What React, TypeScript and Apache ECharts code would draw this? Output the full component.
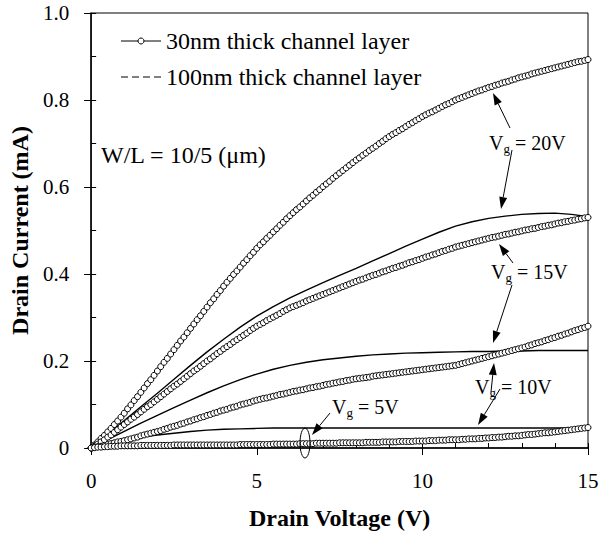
import React, { useEffect, useRef } from "react";
import * as echarts from "echarts";

const FONT = "Liberation Serif, serif";

// Drain voltage sweep for the 30nm curves (0 to 15 V, step 0.1 V)
const vSweep: number[] = Array.from({ length: 151 }, (_, i) => i / 10);

// 30nm thick channel layer (circles), drain current in mA
const c20 = [0,0.007,0.014,0.022,0.029,0.037,0.045,0.054,0.062,0.071,
0.080,0.090,0.099,0.109,0.118,0.128,0.138,0.148,0.157,0.167,
0.177,0.187,0.197,0.206,0.216,0.226,0.236,0.246,0.255,0.265,
0.275,0.285,0.295,0.304,0.314,0.324,0.334,0.343,0.353,0.362,
0.372,0.381,0.390,0.399,0.407,0.416,0.425,0.433,0.442,0.450,
0.459,0.467,0.474,0.482,0.489,0.497,0.504,0.512,0.519,0.527,
0.534,0.541,0.548,0.554,0.561,0.568,0.575,0.581,0.588,0.594,
0.601,0.607,0.613,0.620,0.626,0.632,0.638,0.644,0.650,0.656,
0.662,0.667,0.673,0.678,0.684,0.689,0.694,0.700,0.705,0.711,
0.716,0.721,0.725,0.730,0.734,0.739,0.744,0.748,0.753,0.757,
0.762,0.766,0.770,0.773,0.777,0.781,0.785,0.789,0.792,0.796,
0.800,0.803,0.806,0.809,0.812,0.815,0.818,0.821,0.823,0.826,
0.829,0.831,0.834,0.836,0.839,0.841,0.843,0.846,0.848,0.851,
0.853,0.855,0.857,0.860,0.862,0.864,0.866,0.868,0.870,0.872,
0.874,0.876,0.878,0.880,0.882,0.884,0.886,0.888,0.889,0.891,
0.893];

const c15 = [0,0.004,0.009,0.014,0.019,0.025,0.030,0.036,0.042,0.048,
0.054,0.060,0.066,0.071,0.077,0.083,0.089,0.095,0.100,0.106,
0.112,0.118,0.124,0.130,0.136,0.142,0.147,0.153,0.159,0.165,
0.171,0.177,0.182,0.188,0.194,0.200,0.205,0.211,0.217,0.222,
0.228,0.233,0.238,0.244,0.249,0.254,0.259,0.264,0.270,0.275,
0.280,0.284,0.288,0.293,0.297,0.301,0.305,0.309,0.314,0.318,
0.322,0.325,0.328,0.331,0.334,0.338,0.341,0.344,0.347,0.350,
0.353,0.356,0.359,0.362,0.365,0.368,0.371,0.374,0.377,0.380,
0.383,0.386,0.388,0.391,0.394,0.397,0.399,0.402,0.405,0.407,
0.410,0.413,0.415,0.418,0.420,0.423,0.426,0.428,0.431,0.433,
0.436,0.439,0.441,0.444,0.446,0.449,0.452,0.454,0.457,0.459,
0.462,0.464,0.466,0.468,0.470,0.472,0.474,0.476,0.478,0.480,
0.482,0.484,0.485,0.487,0.489,0.491,0.492,0.494,0.496,0.497,
0.499,0.501,0.502,0.504,0.505,0.507,0.509,0.510,0.512,0.513,
0.515,0.517,0.518,0.520,0.521,0.523,0.524,0.526,0.527,0.529,
0.530];

const c10 = [0,0.001,0.003,0.004,0.006,0.008,0.010,0.012,0.014,0.015,
0.017,0.019,0.021,0.023,0.025,0.028,0.030,0.032,0.034,0.036,
0.038,0.040,0.043,0.045,0.048,0.050,0.052,0.055,0.057,0.060,
0.062,0.065,0.067,0.070,0.072,0.075,0.077,0.080,0.082,0.085,
0.087,0.089,0.092,0.094,0.096,0.099,0.101,0.103,0.105,0.108,
0.110,0.112,0.114,0.115,0.117,0.119,0.121,0.123,0.124,0.126,
0.128,0.130,0.131,0.133,0.134,0.136,0.138,0.139,0.141,0.142,
0.144,0.146,0.147,0.149,0.150,0.152,0.153,0.155,0.156,0.158,
0.159,0.160,0.161,0.162,0.163,0.165,0.166,0.167,0.168,0.169,
0.170,0.171,0.172,0.173,0.174,0.175,0.176,0.177,0.178,0.179,
0.180,0.181,0.182,0.183,0.184,0.185,0.186,0.187,0.188,0.189,
0.190,0.192,0.194,0.196,0.198,0.200,0.202,0.204,0.206,0.208,
0.210,0.212,0.214,0.216,0.218,0.220,0.222,0.224,0.226,0.228,
0.230,0.232,0.235,0.237,0.240,0.242,0.244,0.247,0.249,0.252,
0.254,0.257,0.259,0.262,0.264,0.267,0.270,0.272,0.275,0.277,
0.280];

const c5 = [0,0.001,0.002,0.002,0.003,0.003,0.004,0.004,0.004,0.005,
0.005,0.005,0.005,0.005,0.005,0.006,0.006,0.006,0.006,0.006,
0.006,0.006,0.006,0.006,0.006,0.007,0.007,0.007,0.007,0.007,
0.007,0.007,0.007,0.007,0.007,0.007,0.007,0.007,0.007,0.007,
0.007,0.007,0.007,0.007,0.007,0.008,0.008,0.008,0.008,0.008,
0.008,0.008,0.008,0.008,0.008,0.009,0.009,0.009,0.009,0.009,
0.009,0.009,0.009,0.010,0.010,0.010,0.010,0.010,0.011,0.011,
0.011,0.011,0.011,0.011,0.011,0.012,0.012,0.012,0.012,0.012,
0.012,0.012,0.012,0.013,0.013,0.013,0.013,0.013,0.014,0.014,
0.014,0.014,0.014,0.015,0.015,0.015,0.015,0.015,0.016,0.016,
0.016,0.016,0.017,0.017,0.017,0.018,0.018,0.018,0.019,0.019,
0.019,0.019,0.020,0.020,0.021,0.021,0.021,0.022,0.022,0.023,
0.023,0.024,0.024,0.025,0.025,0.026,0.027,0.027,0.028,0.028,
0.029,0.030,0.031,0.031,0.032,0.033,0.034,0.035,0.035,0.036,
0.037,0.038,0.039,0.040,0.041,0.042,0.043,0.044,0.045,0.046,
0.047];

// 100nm thick channel layer (solid curves), read at 0.5 V steps
const vHalf = [0,0.5,1,1.5,2,2.5,3,3.5,4,4.5,5,5.5,6,6.5,7,7.5,8,8.5,9,9.5,10,10.5,11,11.5,12,12.5,13,13.5,14,14.5,15];
const s20 = [0,0.031,0.063,0.095,0.126,0.158,0.19,0.221,0.25,0.278,0.303,0.325,0.345,0.363,0.38,0.397,0.413,0.43,0.447,0.464,0.48,0.496,0.51,0.52,0.528,0.533,0.537,0.539,0.54,0.537,0.532];
const s15 = [0,0.019,0.038,0.057,0.075,0.093,0.11,0.127,0.143,0.157,0.17,0.181,0.19,0.197,0.203,0.207,0.211,0.214,0.216,0.218,0.219,0.22,0.221,0.222,0.222,0.223,0.223,0.224,0.224,0.224,0.224];
const s10 = [0,0.011,0.019,0.025,0.03,0.034,0.038,0.041,0.043,0.044,0.045,0.046,0.046,0.046,0.046,0.046,0.046,0.046,0.046,0.046,0.046,0.046,0.046,0.046,0.046,0.046,0.046,0.046,0.046,0.046,0.046];

const legendLabels = ["30nm thick channel layer", "100nm thick channel layer"];
const vgLabels = ["20V", "15V", "10V", "5V"];

function arrowEls(x1: number, y1: number, x2: number, y2: number) {
  const dx = x2 - x1, dy = y2 - y1;
  const L = Math.hypot(dx, dy);
  const ux = dx / L, uy = dy / L;
  const hl = 12, hw = 4;
  const bx = x2 - ux * hl, by = y2 - uy * hl;
  return [
    { type: "line", silent: true, shape: { x1, y1, x2: bx, y2: by }, style: { stroke: "#000", lineWidth: 1 } },
    {
      type: "polygon", silent: true,
      shape: { points: [[x2, y2], [bx - uy * hw, by + ux * hw], [bx + uy * hw, by - ux * hw]] },
      style: { fill: "#000" },
    },
  ];
}

function vgText(x: number, y: number, val: string) {
  return {
    type: "text", silent: true, x, y,
    style: {
      text: `{a|V}{b|g}{a| = ${val}}`,
      verticalAlign: "middle",
      rich: {
        a: { fontSize: 20, fontFamily: FONT, fill: "#000" },
        b: { fontSize: 13, fontFamily: FONT, fill: "#000", padding: [10, 0, 0, 0] },
      },
    },
  };
}

export default function App() {
  const ref = useRef<HTMLDivElement>(null);
  useEffect(() => {
    if (!ref.current) return;
    const chart = echarts.init(ref.current, undefined, { renderer: "svg" });

    const circleSeries = [c20, c15, c10, c5].map((arr, k) => ({
      name: "30nm Vg=" + vgLabels[k],
      type: "line",
      xAxisIndex: 0,
      yAxisIndex: 0,
      data: vSweep.map((v, i) => [v, arr[i]]),
      symbol: "circle",
      symbolSize: 6,
      showAllSymbol: true,
      itemStyle: { color: "#fff", borderColor: "#000", borderWidth: 1 },
      lineStyle: { color: "#000", width: 1 },
      z: 3,
    }));
    const solidSeries = [s20, s15, s10].map((arr, k) => ({
      name: "100nm Vg=" + vgLabels[k],
      type: "line",
      xAxisIndex: 0,
      yAxisIndex: 0,
      data: vHalf.map((v, i) => [v, arr[i]]),
      symbol: "none",
      smooth: false,
      lineStyle: { color: "#000", width: 1.4 },
      z: 2,
    }));

    const graphic: any[] = [
      // legend
      { type: "line", silent: true, shape: { x1: 121, y1: 41, x2: 161, y2: 41 }, style: { stroke: "#000", lineWidth: 1 } },
      { type: "circle", silent: true, shape: { cx: 141, cy: 41, r: 3 }, style: { fill: "#fff", stroke: "#000", lineWidth: 1 } },
      { type: "text", silent: true, x: 166, y: 41, style: { text: legendLabels[0], fontSize: 24, fontFamily: FONT, fill: "#000", verticalAlign: "middle" } },
      { type: "line", silent: true, shape: { x1: 121, y1: 77, x2: 161, y2: 77 }, style: { stroke: "#000", lineWidth: 1, lineDash: [7, 4] } },
      { type: "text", silent: true, x: 166, y: 77, style: { text: legendLabels[1], fontSize: 24, fontFamily: FONT, fill: "#000", verticalAlign: "middle" } },
      { type: "text", silent: true, x: 101, y: 155, style: { text: "W/L = 10/5 (μm)", fontSize: 24, fontFamily: FONT, fill: "#000", verticalAlign: "middle" } },
      vgText(489, 143, vgLabels[0]),
      vgText(491, 272, vgLabels[1]),
      vgText(475, 387, vgLabels[2]),
      vgText(332, 407, vgLabels[3]),
      ...arrowEls(510, 128, 493, 93),
      ...arrowEls(512, 150, 501, 209),
      ...arrowEls(513, 263, 499, 244),
      ...arrowEls(512, 285, 493, 343),
      ...arrowEls(491, 392, 494, 363),
      ...arrowEls(500, 389, 478, 425),
      ...arrowEls(330, 413, 312, 435),
      { type: "ellipse", silent: true, shape: { cx: 305, cy: 443, rx: 5, ry: 15 }, style: { fill: "none", stroke: "#000", lineWidth: 1 }, z: 10 },
    ];

    chart.setOption({
      animation: false,
      backgroundColor: "#fff",
      textStyle: { fontFamily: FONT },
      grid: { left: 88, right: 18, top: 13, bottom: 87, show: true, borderColor: "#000", borderWidth: 1, backgroundColor: "transparent" },
      xAxis: [
        {
          type: "value", min: 0, max: 15, interval: 5,
          axisLine: { show: true, lineStyle: { color: "#000", width: 1.5 } },
          axisTick: { show: true, inside: false, length: 7, lineStyle: { color: "#000", width: 1 } },
          axisLabel: { margin: 22, fontSize: 21, fontFamily: FONT, color: "#000" },
          splitLine: { show: false },
          name: "Drain Voltage (V)", nameLocation: "middle", nameGap: 58,
          nameTextStyle: { fontSize: 24, fontWeight: "bold", fontFamily: FONT, color: "#000" },
        },
        {
          type: "value", min: 0, max: 15, interval: 1, position: "bottom",
          axisLine: { show: false },
          axisTick: { show: true, inside: true, length: 5, lineStyle: { color: "#000", width: 1 } },
          axisLabel: { show: false },
          splitLine: { show: false },
        },
      ],
      yAxis: [
        {
          type: "value", min: 0, max: 1, interval: 0.2,
          axisLine: { show: true, lineStyle: { color: "#000", width: 1.5 } },
          axisTick: { show: true, inside: false, length: 7, lineStyle: { color: "#000", width: 1 } },
          axisLabel: {
            margin: 22, fontSize: 21, fontFamily: FONT, color: "#000",
            formatter: (v: number) => (v === 0 ? "0" : v.toFixed(1)),
          },
          splitLine: { show: false },
          name: "Drain Current (mA)", nameLocation: "middle", nameGap: 55,
          nameTextStyle: { fontSize: 24, fontWeight: "bold", fontFamily: FONT, color: "#000" },
        },
        {
          type: "value", min: 0, max: 1, interval: 0.1, position: "left",
          axisLine: { show: false },
          axisTick: { show: true, inside: true, length: 5, lineStyle: { color: "#000", width: 1 } },
          axisLabel: { show: false },
          splitLine: { show: false },
        },
      ],
      series: [...solidSeries, ...circleSeries],
      graphic,
    });
    return () => chart.dispose();
  }, []);
  return <div ref={ref} style={{ position: "fixed", left: 0, top: 0, width: 606, height: 535, background: "#fff" }} />;
}
